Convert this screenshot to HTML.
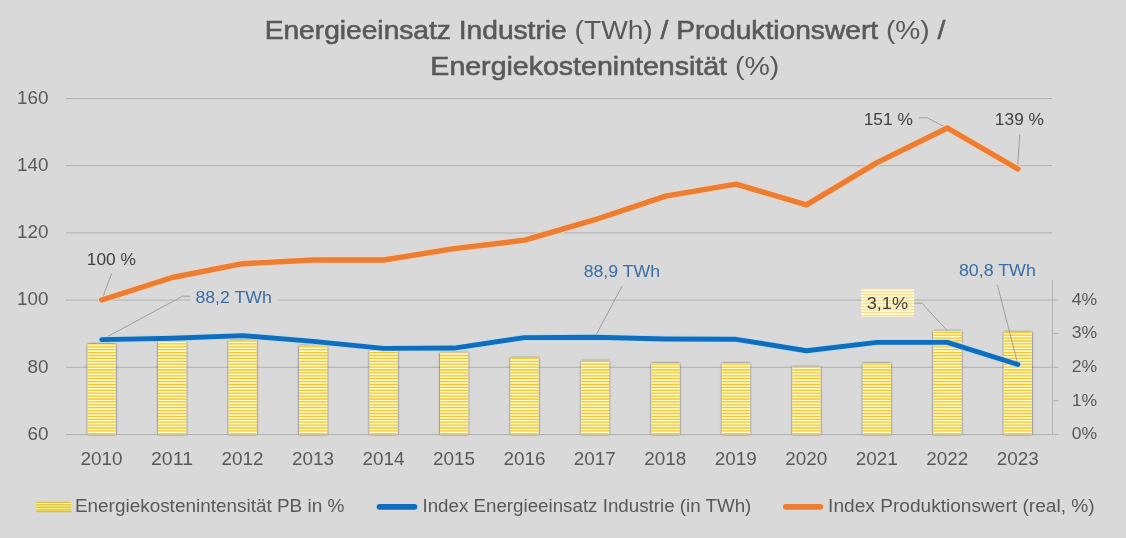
<!DOCTYPE html>
<html><head><meta charset="utf-8"><title>Energieeinsatz Industrie</title>
<style>html,body{margin:0;padding:0;background:#D9D9D9;}svg{display:block;}</style>
</head><body>
<svg width="1126" height="538" viewBox="0 0 1126 538" font-family="'Liberation Sans', Arial, sans-serif">
<defs>
<pattern id="stripes" patternUnits="userSpaceOnUse" width="8" height="2.75"><rect width="8" height="2.75" fill="#FFF8B0" shape-rendering="crispEdges"/><rect y="0" width="8" height="1.2" fill="#EAC545" shape-rendering="crispEdges"/></pattern>
<pattern id="stripes2" patternUnits="userSpaceOnUse" width="8" height="3"><rect width="8" height="3" fill="#FFF8D2"/><rect y="0" width="8" height="1.3" fill="#F7E197"/></pattern>
<filter id="sh" x="-30%" y="-10%" width="160%" height="120%"><feGaussianBlur in="SourceAlpha" stdDeviation="0.8"/><feOffset dx="-0.3" dy="0.2"/><feComponentTransfer><feFuncA type="linear" slope="0.75"/></feComponentTransfer><feMerge><feMergeNode/><feMergeNode in="SourceGraphic"/></feMerge></filter>
</defs>
<rect width="1126" height="538" fill="#D9D9D9"/>
<text x="264.68" y="39.0" font-size="26.5" fill="#595959" textLength="680.68" lengthAdjust="spacingAndGlyphs"><tspan stroke="#595959" stroke-width="0.6">Energieeinsatz Industrie</tspan> (TWh) <tspan stroke="#595959" stroke-width="0.6">/ Produktionswert</tspan> (%) <tspan stroke="#595959" stroke-width="0.6">/</tspan></text>
<text x="430.35" y="74.6" font-size="26.5" fill="#595959" textLength="349.0" lengthAdjust="spacingAndGlyphs"><tspan stroke="#595959" stroke-width="0.6">Energiekostenintensität</tspan> (%)</text>
<line x1="66.0" y1="98.5" x2="1052.2" y2="98.5" stroke="#B0B0B0" stroke-width="1"/>
<line x1="66.0" y1="165.7" x2="1052.2" y2="165.7" stroke="#B0B0B0" stroke-width="1"/>
<line x1="66.0" y1="232.9" x2="1052.2" y2="232.9" stroke="#B0B0B0" stroke-width="1"/>
<line x1="66.0" y1="300.1" x2="1052.2" y2="300.1" stroke="#B0B0B0" stroke-width="1"/>
<line x1="66.0" y1="367.3" x2="1052.2" y2="367.3" stroke="#B0B0B0" stroke-width="1"/>
<line x1="66.0" y1="434.5" x2="1052.2" y2="434.5" stroke="#B0B0B0" stroke-width="1"/>
<text x="48.4" y="103.8" font-size="18" fill="#595959" text-anchor="end" textLength="31.41" lengthAdjust="spacingAndGlyphs">160</text>
<text x="48.4" y="171.0" font-size="18" fill="#595959" text-anchor="end" textLength="31.41" lengthAdjust="spacingAndGlyphs">140</text>
<text x="48.4" y="238.2" font-size="18" fill="#595959" text-anchor="end" textLength="31.41" lengthAdjust="spacingAndGlyphs">120</text>
<text x="48.4" y="305.4" font-size="18" fill="#595959" text-anchor="end" textLength="31.41" lengthAdjust="spacingAndGlyphs">100</text>
<text x="48.4" y="372.6" font-size="18" fill="#595959" text-anchor="end" textLength="20.94" lengthAdjust="spacingAndGlyphs">80</text>
<text x="48.4" y="439.8" font-size="18" fill="#595959" text-anchor="end" textLength="20.94" lengthAdjust="spacingAndGlyphs">60</text>
<line x1="1052.6" y1="280" x2="1052.6" y2="434.4" stroke="#B0B0B0" stroke-width="1"/>
<line x1="1052.6" y1="434.4" x2="1058.6" y2="434.4" stroke="#B0B0B0" stroke-width="1"/>
<text x="1071.8" y="439.1" font-size="16.8" fill="#595959" textLength="25.38" lengthAdjust="spacingAndGlyphs">0%</text>
<line x1="1052.6" y1="400.8" x2="1058.6" y2="400.8" stroke="#B0B0B0" stroke-width="1"/>
<text x="1071.8" y="405.5" font-size="16.8" fill="#595959" textLength="25.38" lengthAdjust="spacingAndGlyphs">1%</text>
<line x1="1052.6" y1="367.2" x2="1058.6" y2="367.2" stroke="#B0B0B0" stroke-width="1"/>
<text x="1071.8" y="371.9" font-size="16.8" fill="#595959" textLength="25.38" lengthAdjust="spacingAndGlyphs">2%</text>
<line x1="1052.6" y1="333.6" x2="1058.6" y2="333.6" stroke="#B0B0B0" stroke-width="1"/>
<text x="1071.8" y="338.3" font-size="16.8" fill="#595959" textLength="25.38" lengthAdjust="spacingAndGlyphs">3%</text>
<line x1="1052.6" y1="300.0" x2="1058.6" y2="300.0" stroke="#B0B0B0" stroke-width="1"/>
<text x="1071.8" y="304.7" font-size="16.8" fill="#595959" textLength="25.38" lengthAdjust="spacingAndGlyphs">4%</text>
<rect x="87.64" y="344.02" width="28.19" height="90.38" fill="#FFFAC4" filter="url(#sh)"/>
<rect x="158.11" y="341.33" width="28.19" height="93.07" fill="#FFFAC4" filter="url(#sh)"/>
<rect x="228.58" y="340.32" width="28.19" height="94.08" fill="#FFFAC4" filter="url(#sh)"/>
<rect x="299.06" y="345.70" width="28.19" height="88.70" fill="#FFFAC4" filter="url(#sh)"/>
<rect x="369.53" y="350.74" width="28.19" height="83.66" fill="#FFFAC4" filter="url(#sh)"/>
<rect x="440.00" y="352.75" width="28.19" height="81.65" fill="#FFFAC4" filter="url(#sh)"/>
<rect x="510.47" y="357.79" width="28.19" height="76.61" fill="#FFFAC4" filter="url(#sh)"/>
<rect x="580.94" y="360.82" width="28.19" height="73.58" fill="#FFFAC4" filter="url(#sh)"/>
<rect x="651.41" y="363.17" width="28.19" height="71.23" fill="#FFFAC4" filter="url(#sh)"/>
<rect x="721.88" y="363.17" width="28.19" height="71.23" fill="#FFFAC4" filter="url(#sh)"/>
<rect x="792.36" y="366.86" width="28.19" height="67.54" fill="#FFFAC4" filter="url(#sh)"/>
<rect x="862.83" y="363.17" width="28.19" height="71.23" fill="#FFFAC4" filter="url(#sh)"/>
<rect x="933.30" y="330.91" width="28.19" height="103.49" fill="#FFFAC4" filter="url(#sh)"/>
<rect x="1003.77" y="331.92" width="28.19" height="102.48" fill="#FFFAC4" filter="url(#sh)"/>
<clipPath id="barclip"><rect x="87.64" y="344.02" width="28.19" height="90.38"/><rect x="158.11" y="341.33" width="28.19" height="93.07"/><rect x="228.58" y="340.32" width="28.19" height="94.08"/><rect x="299.06" y="345.70" width="28.19" height="88.70"/><rect x="369.53" y="350.74" width="28.19" height="83.66"/><rect x="440.00" y="352.75" width="28.19" height="81.65"/><rect x="510.47" y="357.79" width="28.19" height="76.61"/><rect x="580.94" y="360.82" width="28.19" height="73.58"/><rect x="651.41" y="363.17" width="28.19" height="71.23"/><rect x="721.88" y="363.17" width="28.19" height="71.23"/><rect x="792.36" y="366.86" width="28.19" height="67.54"/><rect x="862.83" y="363.17" width="28.19" height="71.23"/><rect x="933.30" y="330.91" width="28.19" height="103.49"/><rect x="1003.77" y="331.92" width="28.19" height="102.48"/></clipPath>
<path d="M66.0 433.80H1052.6M66.0 430.90H1052.6M66.0 428.00H1052.6M66.0 425.10H1052.6M66.0 422.20H1052.6M66.0 419.30H1052.6M66.0 416.40H1052.6M66.0 413.50H1052.6M66.0 410.60H1052.6M66.0 407.70H1052.6M66.0 404.80H1052.6M66.0 401.90H1052.6M66.0 399.00H1052.6M66.0 396.10H1052.6M66.0 393.20H1052.6M66.0 390.30H1052.6M66.0 387.40H1052.6M66.0 384.50H1052.6M66.0 381.60H1052.6M66.0 378.70H1052.6M66.0 375.80H1052.6M66.0 372.90H1052.6M66.0 370.00H1052.6M66.0 367.10H1052.6M66.0 364.20H1052.6M66.0 361.30H1052.6M66.0 358.40H1052.6M66.0 355.50H1052.6M66.0 352.60H1052.6M66.0 349.70H1052.6M66.0 346.80H1052.6M66.0 343.90H1052.6M66.0 341.00H1052.6M66.0 338.10H1052.6M66.0 335.20H1052.6M66.0 332.30H1052.6M66.0 329.40H1052.6" stroke="#F0C53A" stroke-width="1.3" clip-path="url(#barclip)" shape-rendering="auto"/>
<text x="101.5" y="464.9" font-size="18" fill="#595959" text-anchor="middle" textLength="42.00" lengthAdjust="spacingAndGlyphs">2010</text>
<text x="172.0" y="464.9" font-size="18" fill="#595959" text-anchor="middle" textLength="42.00" lengthAdjust="spacingAndGlyphs">2011</text>
<text x="242.5" y="464.9" font-size="18" fill="#595959" text-anchor="middle" textLength="42.00" lengthAdjust="spacingAndGlyphs">2012</text>
<text x="312.9" y="464.9" font-size="18" fill="#595959" text-anchor="middle" textLength="42.00" lengthAdjust="spacingAndGlyphs">2013</text>
<text x="383.4" y="464.9" font-size="18" fill="#595959" text-anchor="middle" textLength="42.00" lengthAdjust="spacingAndGlyphs">2014</text>
<text x="453.9" y="464.9" font-size="18" fill="#595959" text-anchor="middle" textLength="42.00" lengthAdjust="spacingAndGlyphs">2015</text>
<text x="524.4" y="464.9" font-size="18" fill="#595959" text-anchor="middle" textLength="42.00" lengthAdjust="spacingAndGlyphs">2016</text>
<text x="594.8" y="464.9" font-size="18" fill="#595959" text-anchor="middle" textLength="42.00" lengthAdjust="spacingAndGlyphs">2017</text>
<text x="665.3" y="464.9" font-size="18" fill="#595959" text-anchor="middle" textLength="42.00" lengthAdjust="spacingAndGlyphs">2018</text>
<text x="735.8" y="464.9" font-size="18" fill="#595959" text-anchor="middle" textLength="42.00" lengthAdjust="spacingAndGlyphs">2019</text>
<text x="806.2" y="464.9" font-size="18" fill="#595959" text-anchor="middle" textLength="42.00" lengthAdjust="spacingAndGlyphs">2020</text>
<text x="876.7" y="464.9" font-size="18" fill="#595959" text-anchor="middle" textLength="42.00" lengthAdjust="spacingAndGlyphs">2021</text>
<text x="947.2" y="464.9" font-size="18" fill="#595959" text-anchor="middle" textLength="42.00" lengthAdjust="spacingAndGlyphs">2022</text>
<text x="1017.7" y="464.9" font-size="18" fill="#595959" text-anchor="middle" textLength="42.00" lengthAdjust="spacingAndGlyphs">2023</text>
<polyline points="111.8,273.2 101.7,300.0" fill="none" stroke="#999999" stroke-width="0.9"/>
<polyline points="190.3,296.2 182.5,296.2 101.7,339.8" fill="none" stroke="#999999" stroke-width="0.9"/>
<polyline points="622.2,285.9 595.0,337.0" fill="none" stroke="#999999" stroke-width="0.9"/>
<polyline points="997.4,284.9 1017.9,364.6" fill="none" stroke="#999999" stroke-width="0.9"/>
<polyline points="919.3,117.8 927,117.8 947.0,128.0" fill="none" stroke="#999999" stroke-width="0.9"/>
<polyline points="1019.7,134.6 1017.6,168.8" fill="none" stroke="#999999" stroke-width="0.9"/>
<polyline points="914.1,303.2 922,303.2 947.2,330.6" fill="none" stroke="#999999" stroke-width="0.9"/>
<polyline points="101.74,300.00 172.21,277.49 242.68,263.71 313.15,260.02 383.62,260.02 454.09,248.59 524.56,240.19 595.04,219.70 665.51,196.18 735.98,184.08 806.45,204.91 876.92,162.58 947.39,127.97 1017.86,168.96" fill="none" stroke="#F2D2BC" stroke-width="7.4" stroke-linejoin="round" stroke-linecap="round" opacity="0.8"/>
<polyline points="101.74,300.00 172.21,277.49 242.68,263.71 313.15,260.02 383.62,260.02 454.09,248.59 524.56,240.19 595.04,219.70 665.51,196.18 735.98,184.08 806.45,204.91 876.92,162.58 947.39,127.97 1017.86,168.96" fill="none" stroke="#ED7D31" stroke-width="5.4" stroke-linejoin="round" stroke-linecap="round" opacity="1"/>
<polyline points="101.74,339.65 172.21,338.30 242.68,335.62 313.15,341.33 383.62,348.38 454.09,348.05 524.56,337.63 595.04,337.30 665.51,338.98 735.98,339.31 806.45,350.74 876.92,342.34 947.39,342.34 1017.86,364.51" fill="none" stroke="#B8DCF4" stroke-width="6.9" stroke-linejoin="round" stroke-linecap="round" opacity="0.8"/>
<polyline points="101.74,339.65 172.21,338.30 242.68,335.62 313.15,341.33 383.62,348.38 454.09,348.05 524.56,337.63 595.04,337.30 665.51,338.98 735.98,339.31 806.45,350.74 876.92,342.34 947.39,342.34 1017.86,364.51" fill="none" stroke="#0E6EBD" stroke-width="4.9" stroke-linejoin="round" stroke-linecap="round" opacity="1"/>
<rect x="190.3" y="288" width="87" height="18" fill="#D9D9D9"/>
<text x="195.46" y="302.8" font-size="17" fill="#396DA6" textLength="76.28" lengthAdjust="spacingAndGlyphs">88,2 TWh</text>
<text x="583.66" y="277.2" font-size="17" fill="#396DA6" textLength="76.39" lengthAdjust="spacingAndGlyphs">88,9 TWh</text>
<text x="958.95" y="275.9" font-size="17" fill="#396DA6" textLength="76.91" lengthAdjust="spacingAndGlyphs">80,8 TWh</text>
<text x="86.77" y="264.8" font-size="16.8" fill="#404040" textLength="49.04" lengthAdjust="spacingAndGlyphs">100 %</text>
<text x="863.69" y="125.0" font-size="17.2" fill="#404040" textLength="49.25" lengthAdjust="spacingAndGlyphs">151 %</text>
<text x="994.89" y="125.3" font-size="17.2" fill="#404040" textLength="49.15" lengthAdjust="spacingAndGlyphs">139 %</text>
<rect x="861.2" y="288.7" width="52.9" height="28.1" fill="url(#stripes2)"/>
<text x="866.73" y="309.0" font-size="17" fill="#404040" textLength="41.37" lengthAdjust="spacingAndGlyphs">3,1%</text>
<rect x="36.3" y="501.8" width="35" height="10.1" fill="#FFF07C"/>
<path d="M36.3 502.4H71.3M36.3 504.9H71.3M36.3 507.4H71.3M36.3 509.9H71.3M36.3 511.6H71.3" stroke="#D9BE48" stroke-width="1.1"/>
<text x="74.92" y="511.9" font-size="17.5" fill="#595959" textLength="269.43" lengthAdjust="spacingAndGlyphs">Energiekostenintensität PB in %</text>
<line x1="379.5" y1="506.9" x2="414.5" y2="506.9" stroke="#0E6EBD" stroke-width="5.6" stroke-linecap="round"/>
<text x="422.43" y="511.9" font-size="17.5" fill="#595959" textLength="328.89" lengthAdjust="spacingAndGlyphs">Index Energieeinsatz Industrie (in TWh)</text>
<line x1="785.8" y1="506.9" x2="820.3" y2="506.9" stroke="#ED7D31" stroke-width="5.6" stroke-linecap="round"/>
<text x="828.11" y="511.9" font-size="17.5" fill="#595959" textLength="266.54" lengthAdjust="spacingAndGlyphs">Index Produktionswert (real, %)</text>
</svg>
</body></html>
